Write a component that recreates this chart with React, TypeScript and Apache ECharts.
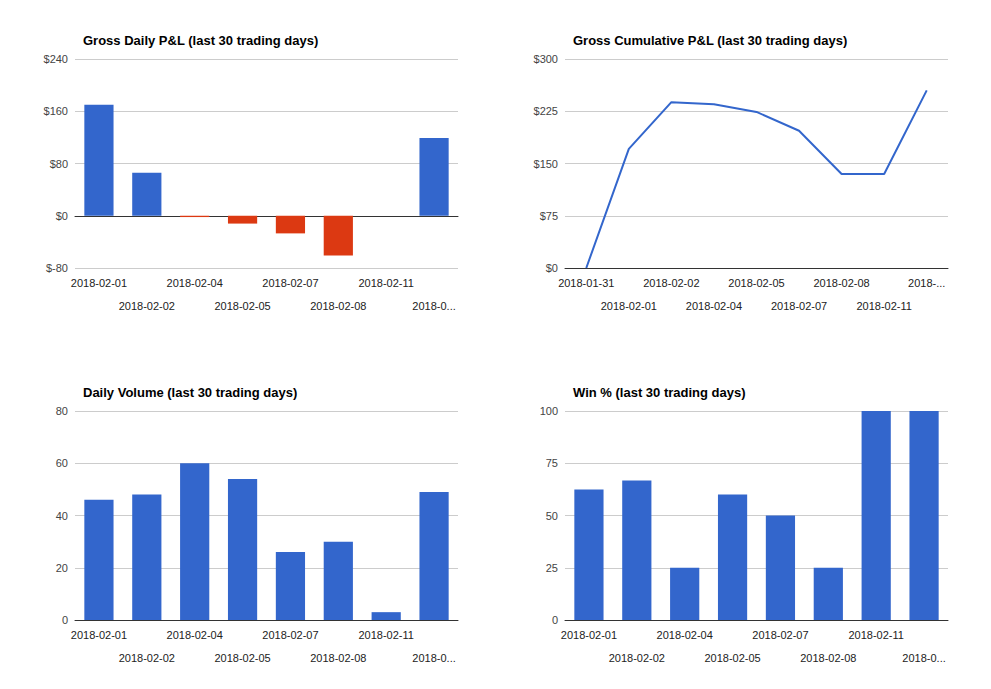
import React, { useRef, useEffect } from 'react'
import * as echarts from 'echarts'

const days = ['2018-02-01', '2018-02-02', '2018-02-04', '2018-02-05', '2018-02-07', '2018-02-08', '2018-02-11', '2018-02-12']
const cumDays = ['2018-01-31', ...days]
const dailyPnl = [170, 66, -2, -12, -27, -61, 0, 119]
const cumPnl = [0, 171, 238, 235, 224, 197, 135, 135, 255]
const volume = [46, 48, 60, 54, 26, 30, 3, 49]
const winPct = [62.5, 66.7, 25, 60, 50, 25, 100, 100]

const BLUE = '#3366cc'
const RED = '#dc3912'
const FONT = 'Liberation Sans, Arial, sans-serif'

const grids = [
  { left: 75, top: 59, width: 383, height: 209 },
  { left: 565, top: 59, width: 383, height: 209 },
  { left: 75, top: 411, width: 383, height: 209 },
  { left: 565, top: 411, width: 383, height: 209 },
]

const titles = [
  'Gross Daily P&L (last 30 trading days)',
  'Gross Cumulative P&L (last 30 trading days)',
  'Daily Volume (last 30 trading days)',
  'Win % (last 30 trading days)',
]

function xAxis(gridIndex: number, data: string[], last: string) {
  return {
    type: 'category' as const,
    gridIndex,
    data,
    axisTick: { show: false },
    axisLine: { lineStyle: { color: '#333' } },
    axisLabel: {
      interval: 0,
      color: '#222',
      fontSize: 11,
      fontFamily: FONT,
      lineHeight: 23,
      margin: 3,
      formatter: (v: string, i: number) => {
        const t = i === data.length - 1 ? last : v
        return i % 2 ? '\n' + t : t
      },
    },
  }
}

function yAxis(gridIndex: number, min: number, max: number, interval: number, dollar: boolean) {
  return {
    type: 'value' as const,
    gridIndex,
    min,
    max,
    interval,
    axisLine: { show: false },
    axisTick: { show: false },
    splitLine: { lineStyle: { color: '#cccccc' } },
    axisLabel: {
      color: '#444',
      fontSize: 11,
      fontFamily: FONT,
      margin: 7,
      formatter: (v: number) => (dollar ? (v < 0 ? '$-' + -v : '$' + v) : String(v)),
    },
  }
}

export default function App() {
  const ref = useRef<HTMLDivElement>(null)

  useEffect(() => {
    document.body.style.margin = '0'
    if (!ref.current) return
    const chart = echarts.init(ref.current, null, { renderer: 'svg' })
    chart.setOption({
      animation: false,
      backgroundColor: '#fff',
      title: titles.map((text, i) => ({
        text,
        left: grids[i].left + 3,
        top: grids[i].top - 30,
        textStyle: { fontSize: 13, fontWeight: 'bold', color: '#000', fontFamily: FONT },
      })),
      grid: grids,
      xAxis: [
        xAxis(0, days, '2018-0...'),
        xAxis(1, cumDays, '2018-...'),
        xAxis(2, days, '2018-0...'),
        xAxis(3, days, '2018-0...'),
      ],
      yAxis: [
        yAxis(0, -80, 240, 80, true),
        yAxis(1, 0, 300, 75, true),
        yAxis(2, 0, 80, 20, false),
        yAxis(3, 0, 100, 25, false),
      ],
      series: [
        {
          type: 'bar',
          xAxisIndex: 0,
          yAxisIndex: 0,
          barWidth: '61%',
          data: dailyPnl.map(v => ({ value: v, itemStyle: { color: v < 0 ? RED : BLUE } })),
        },
        {
          type: 'line',
          xAxisIndex: 1,
          yAxisIndex: 1,
          data: cumPnl,
          showSymbol: false,
          lineStyle: { color: BLUE, width: 2 },
          itemStyle: { color: BLUE },
        },
        { type: 'bar', xAxisIndex: 2, yAxisIndex: 2, barWidth: '61%', data: volume, itemStyle: { color: BLUE } },
        { type: 'bar', xAxisIndex: 3, yAxisIndex: 3, barWidth: '61%', data: winPct, itemStyle: { color: BLUE } },
      ],
    })
    return () => chart.dispose()
  }, [])

  return <div ref={ref} style={{ width: 991, height: 689 }} />
}
